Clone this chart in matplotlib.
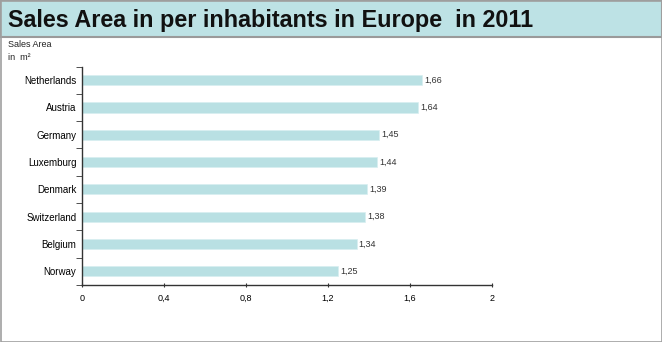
import matplotlib.pyplot as plt
from matplotlib.patches import Rectangle

plt.rcParams["font.family"] = ["Liberation Sans", "DejaVu Sans"]

# Sales area per inhabitant, 2011
countries = ["Netherlands", "Austria", "Germany", "Luxemburg",
             "Denmark", "Switzerland", "Belgium", "Norway"]
area_m2 = [1.66, 1.64, 1.45, 1.44, 1.39, 1.38, 1.34, 1.25]
x_ticks = [0, 0.4, 0.8, 1.2, 1.6, 2]
x_tick_labels = ["0", "0,4", "0,8", "1,2", "1,6", "2"]

W, H = 662, 342
fig = plt.figure(figsize=(W / 100, H / 100), dpi=100)
fig.patch.set_facecolor("white")

# title band and frame
fig.patches.append(Rectangle((0, 1 - 37 / H), 1, 37 / H, transform=fig.transFigure,
                             facecolor="#bde2e5", edgecolor="#9a9a9a", lw=1.5))
fig.patches.append(Rectangle((0.5 / W, 0.5 / H), 1 - 1 / W, 1 - 1 / H, transform=fig.transFigure,
                             facecolor="none", edgecolor="#a0a0a0", lw=1.2))
fig.text(8.5 / W, 1 - 27 / H, "Sales Area in per inhabitants in Europe  in 2011",
         fontsize=16.8, fontweight="bold", color="#111111", va="baseline", ha="left")
fig.text(8 / W, 1 - 40 / H, "Sales Area\nin  m²", fontsize=6.5, va="top", ha="left",
         linespacing=1.5, color="#222222")

ax = fig.add_axes([82 / W, 1 - 285 / H, (492 - 82) / W, (285 - 66.5) / H])
ypos = list(range(len(countries)))
ax.barh(ypos, area_m2, height=0.37, color="#b9e0e3", edgecolor="#d8eef0", lw=0.5)
for y, v in zip(ypos, area_m2):
    ax.text(v + 0.01, y, f"{v:.2f}".replace(".", ","), fontsize=6.5, va="center",
            ha="left", color="#333333")

ax.set_ylim(len(countries) - 0.5, -0.5)
ax.set_xlim(0, 2)
ax.set_yticks(ypos)
ax.set_yticklabels(countries, fontsize=7)
ax.set_yticks([i - 0.5 for i in range(len(countries) + 1)], minor=True)
ax.tick_params(axis="y", which="major", length=0, pad=4)
ax.tick_params(axis="y", which="minor", length=4, direction="out", color="#333333")
ax.set_xticks(x_ticks)
ax.set_xticklabels(x_tick_labels, fontsize=6.5)
ax.tick_params(axis="x", length=3, direction="inout", color="#333333", pad=5)
for side in ["top", "right"]:
    ax.spines[side].set_visible(False)
for side in ["left", "bottom"]:
    ax.spines[side].set_color("#333333")
    ax.spines[side].set_linewidth(1)

fig.savefig("out.png", dpi=100)
